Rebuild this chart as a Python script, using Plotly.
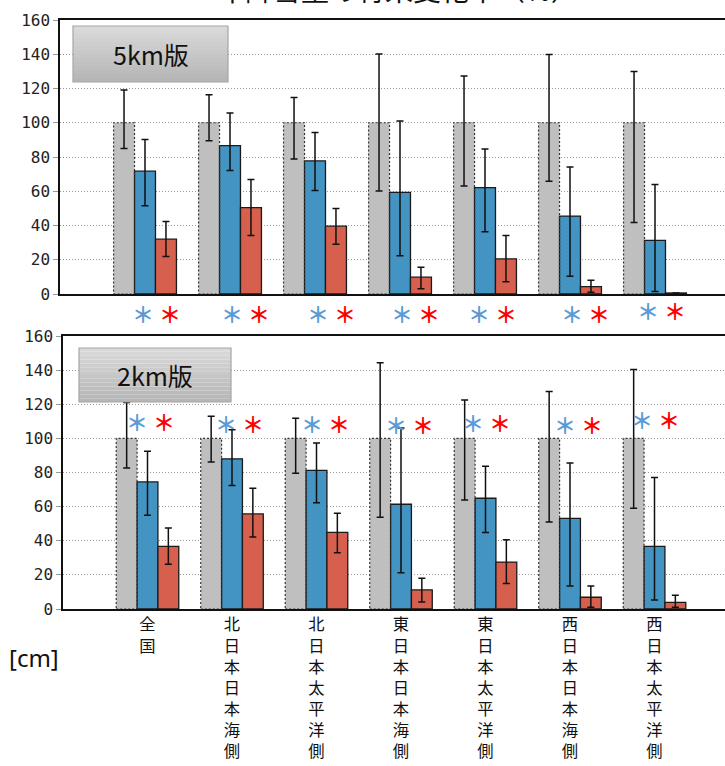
import plotly.graph_objects as go

W, H = 725, 766

categories = ["全国", "北日本日本海側", "北日本太平洋側", "東日本日本海側",
              "東日本太平洋側", "西日本日本海側", "西日本太平洋側"]
y_ticks = [0, 20, 40, 60, 80, 100, 120, 140, 160]

# ---- 5km版 (top panel) ----
gray_5 = [100, 100, 100, 100, 100, 100, 100]
gray_5_hi = [119.1, 116.4, 114.8, 140.2, 127.3, 139.8, 130.0]
gray_5_lo = [85.0, 89.5, 78.9, 60.2, 63.1, 65.8, 41.8]
blue_5 = [71.7, 86.7, 77.7, 59.4, 62.1, 45.5, 31.3]
blue_5_hi = [90.2, 105.7, 94.3, 101.0, 84.6, 74.2, 63.9]
blue_5_lo = [51.6, 72.1, 60.4, 22.3, 36.3, 10.4, 1.4]
red_5 = [32.0, 50.4, 39.6, 9.8, 20.5, 4.3, 0.6]
red_5_hi = [42.4, 66.8, 50.0, 15.6, 34.2, 8.0, 0.6]
red_5_lo = [21.9, 34.2, 29.1, 3.1, 7.2, 1.0, 0.6]

# ---- 2km版 (bottom panel) ----
gray_2 = [100, 100, 100, 100, 100, 100, 100]
gray_2_hi = [121.0, 112.9, 111.8, 144.3, 122.5, 127.5, 140.4]
gray_2_lo = [82.7, 86.1, 79.6, 53.7, 63.9, 51.0, 59.0]
blue_2 = [74.5, 88.0, 81.2, 61.4, 64.9, 53.1, 36.7]
blue_2_hi = [92.5, 105.1, 97.3, 106.1, 83.7, 85.5, 77.1]
blue_2_lo = [54.9, 72.4, 62.2, 21.2, 44.9, 13.5, 5.3]
red_2 = [36.7, 55.7, 44.9, 11.2, 27.5, 6.9, 3.9]
red_2_hi = [47.5, 70.8, 56.1, 18.0, 40.6, 13.5, 8.0]
red_2_lo = [26.3, 42.2, 32.9, 4.1, 14.9, 1.0, 1.0]

# significance asterisk positions (offset from group centre in px, vertical px)
sig5_dx = [-2, 2, 3, 2, -6, 2, -7]
sig5_y = [313, 313, 313, 313, 313, 313, 310]
sig2_dx = [-10.5, -6, -4.5, -5, -12.5, -5, -12.5]
sig2_y = [421, 423, 423, 424, 422, 424, 419]

GRAY, BLUE, RED = "#BFBFBF", "#4393C3", "#D6604D"
AST_BLUE, AST_RED = "#5B9BD5", "#FF0000"


def py(p):
    return 1 - p / H


def px(p):
    return p / W


x_idx = list(range(len(categories)))
fig = go.Figure()


def add_panel(xa, ya, vals, his, los):
    for v, hi, lo, col, lw in zip(vals, his, los, [GRAY, BLUE, RED], [0, 1.3, 1.3]):
        fig.add_trace(go.Bar(
            x=x_idx, y=v, xaxis=xa, yaxis=ya,
            marker=dict(color=col, line=dict(color="#1a1a1a", width=lw)),
            error_y=dict(type="data", symmetric=False,
                         array=[h - a for h, a in zip(hi, v)],
                         arrayminus=[a - l for a, l in zip(v, lo)],
                         color="#111111", thickness=1.5, width=3.5),
            showlegend=False, hoverinfo="skip"))


add_panel("x", "y", [gray_5, blue_5, red_5], [gray_5_hi, blue_5_hi, red_5_hi], [gray_5_lo, blue_5_lo, red_5_lo])
add_panel("x2", "y2", [gray_2, blue_2, red_2], [gray_2_hi, blue_2_hi, red_2_hi], [gray_2_lo, blue_2_lo, red_2_lo])

BARGAP = 0.26
bw = (1 - BARGAP) / 3
shapes = []
# dotted outlines of the reference (gray) bars
for xr, yr, g in [("x", "y", gray_5), ("x2", "y2", gray_2)]:
    for i, v in zip(x_idx, g):
        x0 = i - (1 - BARGAP) / 2
        shapes.append(dict(type="rect", xref=xr, yref=yr, x0=x0, x1=x0 + bw, y0=0, y1=v,
                           line=dict(color="#333333", width=1.2, dash="2px,2px"), layer="above"))


# panel label boxes with gradient look
def label_box(x0, x1, y0, y1, text):
    n = 14
    c_top, c_bot = (218, 218, 218), (182, 182, 182)
    for k in range(n):
        t = k / (n - 1)
        c = tuple(int(a + (b - a) * t) for a, b in zip(c_top, c_bot))
        ya = y0 + (y1 - y0) * k / n
        yb = y0 + (y1 - y0) * (k + 1) / n
        shapes.append(dict(type="rect", xref="paper", yref="paper",
                           x0=px(x0), x1=px(x1), y0=py(ya), y1=py(yb),
                           fillcolor="rgb(%d,%d,%d)" % c, line=dict(width=0), layer="above"))
    shapes.append(dict(type="rect", xref="paper", yref="paper", x0=px(x0), x1=px(x1),
                       y0=py(y0), y1=py(y1), line=dict(color="#A6A6A6", width=1.2), layer="above"))
    return dict(text=text, xref="paper", yref="paper", x=px((x0 + x1) / 2), y=py((y0 + y1) / 2),
                showarrow=False, font=dict(family="Noto Sans CJK JP", size=25, color="#111111"),
                xanchor="center", yanchor="middle")


annotations = [label_box(73, 228, 26, 82, "5km版"), label_box(79, 231, 348, 402, "2km版")]

# significance asterisks
for i in x_idx:
    for xr, dxs, ys, scale in [("x", sig5_dx, sig5_y, 85.0), ("x2", sig2_dx, sig2_y, 84.5)]:
        annotations.append(dict(text="<b>＊</b>", xref=xr, yref="paper", x=i + dxs[i] / scale, y=py(ys[i]),
                                showarrow=False, font=dict(family="Noto Sans CJK JP", size=22, color=AST_BLUE),
                                xanchor="center", yanchor="middle"))
        annotations.append(dict(text="<b>＊</b>", xref=xr, yref="paper", x=i + (dxs[i] + 27) / scale, y=py(ys[i]),
                                showarrow=False, font=dict(family="Noto Sans CJK JP", size=22, color=AST_RED),
                                xanchor="center", yanchor="middle"))

annotations.append(dict(text="[cm]", xref="paper", yref="paper", x=px(34), y=py(657), showarrow=False,
                        font=dict(family="Noto Sans", size=24, color="#111111"),
                        xanchor="center", yanchor="middle"))
annotations.append(dict(text="年降雪量の将来変化率（%）", xref="paper", yref="paper", x=px(398), y=py(-11),
                        showarrow=False, font=dict(family="Noto Sans CJK JP", size=28, color="#111111"),
                        xanchor="center", yanchor="middle"))

yaxis_common = dict(range=[0, 160], tickvals=y_ticks, showgrid=True, gridcolor="#9a9a9a", griddash="1px,2px",
                    gridwidth=1, showline=True, linecolor="#111111", linewidth=1.5, ticks="outside",
                    ticklen=5, tickcolor="#999999", zeroline=False, automargin=False,
                    tickfont=dict(family="DejaVu Sans Mono", size=16, color="#222222"))
xaxis_common = dict(showgrid=False, zeroline=False, showline=True, linecolor="#111111", linewidth=1.5,
                    mirror=True, ticks="", automargin=False)

vert = ["<br>".join(list(c)) for c in categories]

fig.update_layout(
    width=W, height=H, paper_bgcolor="white", plot_bgcolor="white",
    margin=dict(l=0, r=0, t=0, b=0, autoexpand=False),
    barmode="group", bargap=BARGAP, bargroupgap=0,
    xaxis=dict(domain=[px(60), 1], range=[-1, -1 + 665 / 85.0], anchor="y",
               tickvals=x_idx, showticklabels=False, **xaxis_common),
    yaxis=dict(domain=[py(294), py(20)], anchor="x", **yaxis_common),
    xaxis2=dict(domain=[px(63), 1], range=[-1, -1 + 662 / 84.5], anchor="y2",
                tickvals=x_idx, ticktext=vert, showticklabels=True, tickangle=0,
                tickfont=dict(family="Noto Sans CJK JP", size=16.3, color="#111111"), **xaxis_common),
    yaxis2=dict(domain=[py(609), py(336)], anchor="x2", **yaxis_common),
    shapes=shapes, annotations=annotations,
)

fig.write_html("out.html", config={"displayModeBar": False},
               post_script="document.body.style.margin='0';document.body.style.overflow='hidden';")
